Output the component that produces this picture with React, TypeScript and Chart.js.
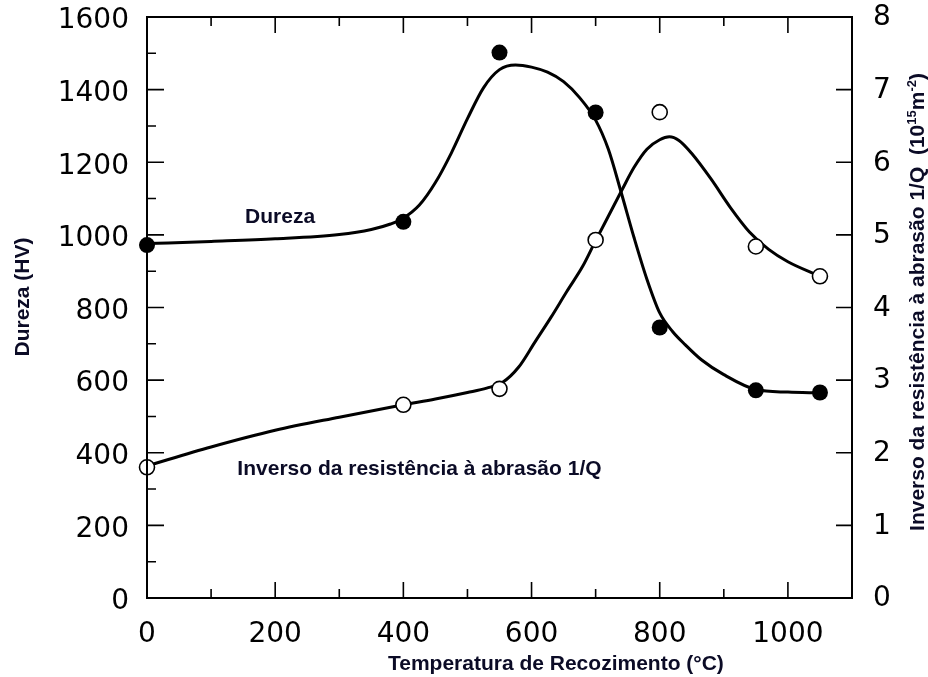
import React, { useEffect, useRef } from 'react';
import { Chart, registerables } from 'chart.js';

Chart.register(...registerables);

// Measured data points (temperature °C)
const tempPoints = [0, 400, 550, 700, 800, 950, 1050];
// Dureza (HV) – filled circles, left axis
const durezaValues = [972, 1036, 1502, 1337, 745, 572, 566];
// Inverso da resistência à abrasão 1/Q (10^15 m^-2) – open circles, right axis
const inversoValues = [1.8, 2.66, 2.88, 4.93, 6.69, 4.84, 4.43];

// Fitted (hand-drawn) curve for Dureza
const durezaCurveT = [0, 100, 200, 300, 350, 380, 400, 425, 450, 475, 500, 525, 550, 575, 600, 625, 650, 675, 700, 720, 740, 760, 780, 800, 820, 840, 865, 900, 950, 1000, 1050];
const durezaCurveV = [976, 982, 989, 1001, 1015, 1030, 1046, 1082, 1144, 1226, 1320, 1405, 1455, 1468, 1462, 1448, 1422, 1378, 1316, 1235, 1116, 992, 878, 785, 734, 697, 656, 615, 574, 567, 565];

// Fitted curve for 1/Q
const inversoCurveT = [0, 100, 200, 300, 400, 450, 500, 530, 555, 580, 605, 630, 655, 680, 700, 720, 740, 760, 780, 800, 815, 830, 850, 880, 910, 940, 970, 1000, 1050];
const inversoCurveV = [1.82, 2.08, 2.31, 2.49, 2.66, 2.74, 2.83, 2.89, 2.97, 3.18, 3.52, 3.86, 4.22, 4.57, 4.92, 5.26, 5.6, 5.93, 6.18, 6.31, 6.35, 6.3, 6.12, 5.77, 5.38, 5.04, 4.8, 4.63, 4.43];

// Axes
const xMin = 0;
const xMax = 1100;
const xStep = 200;
const xMinorStep = 100;
const leftMin = 0;
const leftMax = 1600;
const leftStep = 200;
const leftMinorStep = 100;
const rightMin = 0;
const rightMax = 8;
const rightStep = 1;

// Texts
const xTitle = 'Temperatura de Recozimento (°C)';
const leftTitle = 'Dureza (HV)';
const rightTitleMain = 'Inverso da resistência à abrasão 1/Q  (10';
const rightTitleSup1 = '15';
const rightTitleMid = 'm';
const rightTitleSup2 = '-2';
const rightTitleEnd = ')';
const durezaLabel = 'Dureza';
const durezaLabelAt = { x: 153, y: 1033 };
const inversoLabel = 'Inverso da resistência à abrasão 1/Q';
const inversoLabelAt = { x: 141, y: 339 };

const TEXT_COLOR = '#0b0b26';
const BOLD = 'bold 21px "Liberation Sans", Arial, sans-serif';

const framePlugin = {
  id: 'frameAndTexts',
  afterDraw(chart: any) {
    const { ctx, chartArea: a, scales } = chart;
    const x = scales.x;
    const yl = scales.y;
    const yr = scales.y2;
    ctx.save();
    ctx.strokeStyle = '#000';
    ctx.lineWidth = 2;
    ctx.strokeRect(a.left, a.top, a.right - a.left, a.bottom - a.top);

    ctx.lineWidth = 1.6;
    ctx.beginPath();
    for (let v = xMin; v <= xMax; v += xMinorStep) {
      const px = x.getPixelForValue(v);
      const len = v % xStep === 0 ? 16 : 9;
      ctx.moveTo(px, a.bottom);
      ctx.lineTo(px, a.bottom - len);
      ctx.moveTo(px, a.top);
      ctx.lineTo(px, a.top + len);
    }
    for (let v = leftMin; v <= leftMax; v += leftMinorStep) {
      const py = yl.getPixelForValue(v);
      const len = v % leftStep === 0 ? 17 : 9;
      ctx.moveTo(a.left, py);
      ctx.lineTo(a.left + len, py);
    }
    for (let v = rightMin; v <= rightMax; v += rightStep) {
      const py = yr.getPixelForValue(v);
      ctx.moveTo(a.right, py);
      ctx.lineTo(a.right - 16, py);
    }
    ctx.stroke();

    // Annotations
    ctx.fillStyle = TEXT_COLOR;
    ctx.font = BOLD;
    ctx.textBaseline = 'alphabetic';
    ctx.textAlign = 'left';
    ctx.fillText(durezaLabel, x.getPixelForValue(durezaLabelAt.x), yl.getPixelForValue(durezaLabelAt.y));
    ctx.fillText(inversoLabel, x.getPixelForValue(inversoLabelAt.x), yl.getPixelForValue(inversoLabelAt.y));

    // X title
    ctx.textAlign = 'center';
    ctx.fillText(xTitle, a.left + (a.right - a.left) * 0.58, a.bottom + 72);

    // Left title
    ctx.save();
    ctx.translate(28.5, 297);
    ctx.rotate(-Math.PI / 2);
    ctx.textAlign = 'center';
    ctx.fillText(leftTitle, 0, 0);
    ctx.restore();

    // Right title with superscripts
    ctx.save();
    ctx.translate(923.5, 302);
    ctx.rotate(-Math.PI / 2);
    ctx.textAlign = 'left';
    const SUP = 'bold 13px "Liberation Sans", Arial, sans-serif';
    const parts = [
      { t: rightTitleMain, f: BOLD, dy: 0 },
      { t: rightTitleSup1, f: SUP, dy: -8 },
      { t: rightTitleMid, f: BOLD, dy: 0 },
      { t: rightTitleSup2, f: SUP, dy: -8 },
      { t: rightTitleEnd, f: BOLD, dy: 0 },
    ];
    let total = 0;
    for (const p of parts) {
      ctx.font = p.f;
      total += ctx.measureText(p.t).width;
    }
    let cx = -total / 2;
    for (const p of parts) {
      ctx.font = p.f;
      ctx.fillText(p.t, cx, p.dy);
      cx += ctx.measureText(p.t).width;
    }
    ctx.restore();

    ctx.restore();
  },
};

export default function App() {
  const canvasRef = useRef<HTMLCanvasElement | null>(null);

  useEffect(() => {
    if (!canvasRef.current) return;
    const tickFont = { family: '"DejaVu Sans", sans-serif', size: 28 };
    const chart = new Chart(canvasRef.current, {
      type: 'line',
      data: {
        datasets: [
          {
            label: 'Dureza',
            data: tempPoints.map((t, i) => ({ x: t, y: durezaValues[i] })),
            yAxisID: 'y',
            showLine: false,
            pointRadius: 8,
            pointBackgroundColor: '#000',
            pointBorderColor: '#000',
            pointBorderWidth: 0,
            clip: false,
          },
          {
            label: '1/Q',
            data: tempPoints.map((t, i) => ({ x: t, y: inversoValues[i] })),
            yAxisID: 'y2',
            showLine: false,
            pointRadius: 7.5,
            pointBackgroundColor: '#fff',
            pointBorderColor: '#000',
            pointBorderWidth: 1.6,
            clip: false,
          },
          {
            label: 'Dureza curva',
            data: durezaCurveT.map((t, i) => ({ x: t, y: durezaCurveV[i] })),
            yAxisID: 'y',
            borderColor: '#000',
            borderWidth: 3,
            pointRadius: 0,
            cubicInterpolationMode: 'monotone',
            fill: false,
            clip: false,
          },
          {
            label: '1/Q curva',
            data: inversoCurveT.map((t, i) => ({ x: t, y: inversoCurveV[i] })),
            yAxisID: 'y2',
            borderColor: '#000',
            borderWidth: 3,
            pointRadius: 0,
            cubicInterpolationMode: 'monotone',
            fill: false,
            clip: false,
          },
        ],
      },
      options: {
        responsive: false,
        animation: false,
        devicePixelRatio: 1,
        layout: { padding: { top: 17, left: 0, right: 0, bottom: 0 } },
        plugins: { legend: { display: false }, tooltip: { enabled: false } },
        events: [],
        scales: {
          x: {
            type: 'linear',
            min: xMin,
            max: xMax,
            grid: { display: false },
            border: { display: false },
            ticks: {
              stepSize: xStep,
              includeBounds: false,
              autoSkip: false,
              maxRotation: 0,
              padding: 12,
              color: '#000',
              font: tickFont,
              callback: (v: any) => (Number(v) % xStep === 0 ? String(v) : ''),
            },
            afterFit: (s: any) => {
              s.height = 79;
              s.paddingLeft = 0;
              s.paddingRight = 0;
            },
          },
          y: {
            type: 'linear',
            position: 'left',
            min: leftMin,
            max: leftMax,
            grid: { display: false },
            border: { display: false },
            ticks: {
              stepSize: leftStep,
              padding: 10,
              labelOffset: 4,
              color: '#000',
              font: tickFont,
              callback: (v: any) => String(v),
            },
            afterFit: (s: any) => {
              s.width = 147;
              s.paddingTop = 0;
              s.paddingBottom = 0;
            },
          },
          y2: {
            type: 'linear',
            position: 'right',
            min: rightMin,
            max: rightMax,
            grid: { display: false },
            border: { display: false },
            ticks: {
              stepSize: rightStep,
              padding: 13,
              labelOffset: 1,
              color: '#000',
              font: tickFont,
              callback: (v: any) => String(v),
            },
            afterFit: (s: any) => {
              s.width = 76;
              s.paddingTop = 0;
              s.paddingBottom = 0;
            },
          },
        },
      } as any,
      plugins: [framePlugin],
    });
    return () => chart.destroy();
  }, []);

  return (
    <canvas
      ref={canvasRef}
      width={928}
      height={677}
      style={{ position: 'absolute', left: 0, top: 0, width: 928, height: 677, background: '#fff' }}
    />
  );
}
